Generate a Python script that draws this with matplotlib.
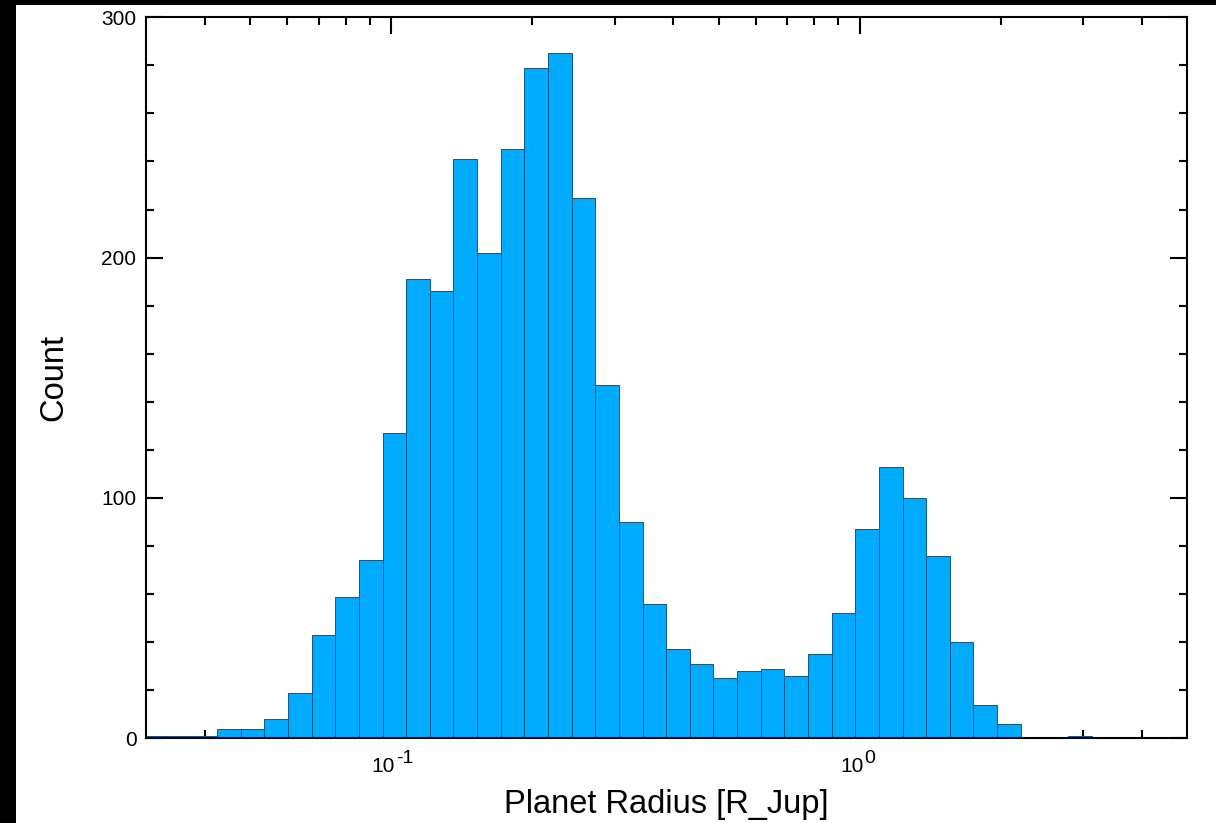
import numpy as np
import matplotlib
matplotlib.use("Agg")
import matplotlib.pyplot as plt
from matplotlib.patches import Rectangle
from matplotlib.ticker import FixedLocator, MultipleLocator, NullFormatter

plt.rcParams['font.family'] = ['Liberation Sans', 'DejaVu Sans']

# log-spaced radius bins [R_Jup]
r_min = 0.03
r_max = 3.13
n_bins = 40

counts = [1, 1, 1, 4, 4, 8, 19, 43, 59, 74,
          127, 191, 186, 241, 202, 245, 279, 285, 225, 147,
          90, 56, 37, 31, 25, 28, 29, 26, 35, 52,
          87, 113, 100, 76, 40, 14, 6, 0, 0, 1]

x_major = [0.1, 1.0]
x_major_exps = ['-1', '0']
x_minor = [0.04, 0.05, 0.06, 0.07, 0.08, 0.09,
           0.2, 0.3, 0.4, 0.5, 0.6, 0.7, 0.8, 0.9,
           2.0, 3.0, 4.0]
y_major = [0, 100, 200, 300]

edges = np.geomspace(r_min, r_max, n_bins + 1)

fig = plt.figure(figsize=(12.16, 8.23), dpi=100)
fig.patch.set_facecolor('white')
# black frame strips on the left and top
fig.patches.append(Rectangle((0, 0), 16 / 1216, 1, transform=fig.transFigure,
                             facecolor='black', edgecolor='none', zorder=10))
fig.patches.append(Rectangle((0, 1 - 5 / 823), 1, 5 / 823, transform=fig.transFigure,
                             facecolor='black', edgecolor='none', zorder=10))

ax = fig.add_axes([0.1202, 0.1029, 0.9761 - 0.1202, 0.979 - 0.1029])
ax.bar(edges[:-1], counts, width=np.diff(edges), align='edge',
       color='#00aaff', edgecolor='#0b5a8a', linewidth=0.7, zorder=2)

ax.set_xscale('log')
ax.set_xlim(0.03, 5.0)
ax.set_ylim(0, 300)

ax.xaxis.set_major_locator(FixedLocator(x_major))
ax.set_xticklabels([''] * len(x_major))
ax.xaxis.set_minor_locator(FixedLocator(x_minor))
ax.xaxis.set_minor_formatter(NullFormatter())
ax.yaxis.set_major_locator(FixedLocator(y_major))
ax.yaxis.set_minor_locator(MultipleLocator(20))

# decade labels: base "10" with a raised exponent
for xv, ex in zip(x_major, x_major_exps):
    ax.annotate('10', xy=(xv, 0), xycoords=('data', 'axes fraction'),
                xytext=(4, -34), textcoords='offset pixels',
                ha='right', va='baseline', fontsize=15)
    ax.annotate(ex, xy=(xv, 0), xycoords=('data', 'axes fraction'),
                xytext=(5, -25), textcoords='offset pixels',
                ha='left', va='baseline', fontsize=14)

ax.set_axisbelow(True)
for s in ax.spines.values():
    s.set_linewidth(1.5)
    s.set_zorder(3)

ax.tick_params(which='both', direction='in', top=True, right=True,
               width=1.5, color='black')
ax.tick_params(which='major', length=12.5)
ax.tick_params(which='minor', length=6)
ax.tick_params(axis='y', which='major', labelsize=15, pad=7)

ax.set_xlabel('Planet Radius [R_Jup]', fontsize=23.5)
ax.xaxis.label.set_va('baseline')
ax.xaxis.set_label_coords(0.5, -0.1036)
ax.set_ylabel('Count', fontsize=23.5)
ax.yaxis.label.set_va('center')
ax.yaxis.set_label_coords(-0.0886, 0.5)

fig.savefig('out.png', dpi=100, facecolor='white')
